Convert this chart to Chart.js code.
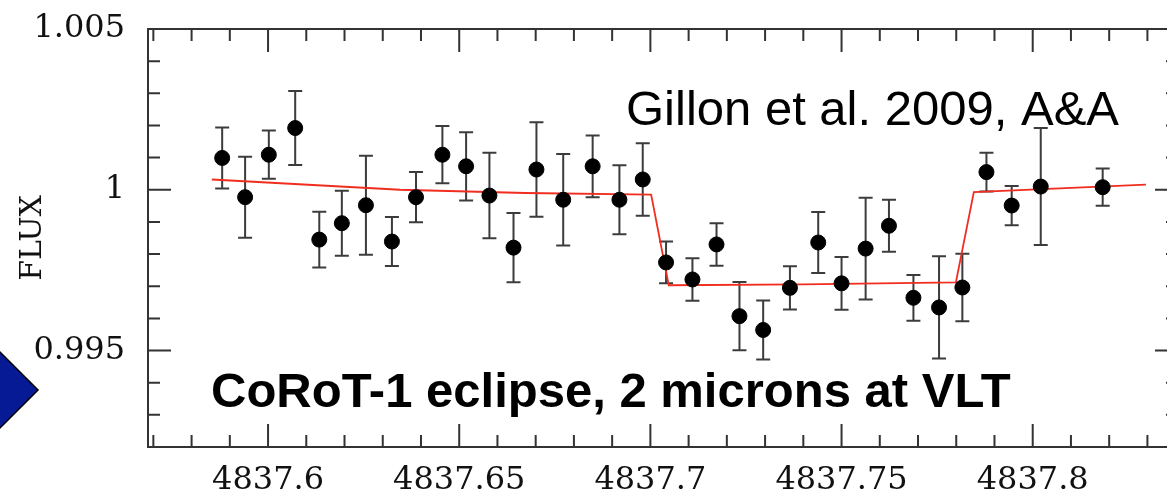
<!DOCTYPE html>
<html>
<head>
<meta charset="utf-8">
<script src="https://cdn.jsdelivr.net/npm/chart.js@4/dist/chart.umd.min.js"></script>
<style>
  html, body { margin: 0; padding: 0; background: #fff; overflow: hidden; }
  #wrap { width: 1190px; height: 492px; }
  canvas { display: block; }
</style>
</head>
<body>
<div id="wrap"><canvas id="eclipseChart" width="1190" height="492"></canvas></div>
<script>
// observed points (HJD - 2450000), relative flux and 1-sigma errors
const obsTime = [4837.5880, 4837.5940, 4837.6002, 4837.6071, 4837.6134, 4837.6193, 4837.6256,
  4837.6324, 4837.6387, 4837.6456, 4837.6518, 4837.6579, 4837.6642, 4837.6702, 4837.6772,
  4837.6849, 4837.6919, 4837.6980, 4837.7041, 4837.7110, 4837.7173, 4837.7233, 4837.7295,
  4837.7365, 4837.7439, 4837.7500, 4837.7563, 4837.7624, 4837.7688, 4837.7755, 4837.7816,
  4837.7879, 4837.7945, 4837.8021, 4837.8183];
const obsFlux = [1.00099, 0.99977, 1.00109, 1.00192, 0.99845, 0.99896, 0.99952, 0.99839,
  0.99977, 1.00109, 1.00073, 0.99982, 0.99820, 1.00063, 0.99969, 1.00073, 0.99969, 1.00032,
  0.99774, 0.99721, 0.99830, 0.99607, 0.99564, 0.99695, 0.99836, 0.99709, 0.99817, 0.99888,
  0.99664, 0.99634, 0.99696, 1.00055, 0.99951, 1.00010, 1.00008];
const obsErr = [0.00095, 0.00126, 0.00075, 0.00115, 0.00087, 0.00101, 0.00154, 0.00076,
  0.00078, 0.00089, 0.00106, 0.00133, 0.00108, 0.00147, 0.00142, 0.00096, 0.00107, 0.00113,
  0.00065, 0.00066, 0.00066, 0.00106, 0.00092, 0.00067, 0.00095, 0.00082, 0.00158, 0.00081,
  0.00071, 0.00159, 0.00105, 0.00060, 0.00061, 0.00182, 0.00058];

// best-fit eclipse model
const modelTime = [4837.5853, 4837.6345, 4837.6673, 4837.7002, 4837.7048, 4837.7398, 4837.7799, 4837.7846, 4837.8296];
const modelFlux = [1.00032, 1.00000, 0.99990, 0.99985, 0.99703, 0.99706, 0.99712, 0.99993, 1.00016];

// labelled ticks
const xTickLabels = [4837.6, 4837.65, 4837.7, 4837.75, 4837.8];
const yTickLabels = [0.995, 1, 1.005];

const isLabelled = (v, list) => list.some((t) => Math.abs(t - v) < 1e-7);
const isMultiple = (v, step) => Math.abs(Math.round(v / step) * step - v) < step * 1e-3;

const tickFont = { family: '"DejaVu Serif"', size: 32 };

// inward ticks, frame, error bars and notes
const framePlugin = {
  id: 'framePlugin',
  beforeDatasetsDraw(chart) {
    const { ctx, scales: { x, y } } = chart;
    ctx.save();
    ctx.strokeStyle = '#3c3c3c';
    ctx.lineWidth = 2;
    obsTime.forEach((t, i) => {
      const px = x.getPixelForValue(t);
      const top = y.getPixelForValue(obsFlux[i] + obsErr[i]);
      const bot = y.getPixelForValue(obsFlux[i] - obsErr[i]);
      ctx.beginPath();
      ctx.moveTo(px, top);
      ctx.lineTo(px, bot);
      ctx.moveTo(px - 7, top);
      ctx.lineTo(px + 7, top);
      ctx.moveTo(px - 7, bot);
      ctx.lineTo(px + 7, bot);
      ctx.stroke();
    });
    ctx.restore();
  },
  afterDraw(chart) {
    const { ctx, chartArea: a, scales: { x, y } } = chart;
    ctx.save();
    ctx.strokeStyle = '#333';
    ctx.lineWidth = 2;
    ctx.strokeRect(a.left, a.top, a.right - a.left, a.bottom - a.top);

    ctx.beginPath();
    x.ticks.forEach((t) => {
      if (!isMultiple(t.value, 0.01)) return;
      const px = x.getPixelForValue(t.value);
      const len = isMultiple(t.value, 0.05) ? 23 : 12;
      ctx.moveTo(px, a.bottom);
      ctx.lineTo(px, a.bottom - len);
      ctx.moveTo(px, a.top);
      ctx.lineTo(px, a.top + len);
    });
    y.ticks.forEach((t) => {
      if (!isMultiple(t.value, 0.001)) return;
      const py = y.getPixelForValue(t.value);
      const len = isMultiple(t.value, 0.005) ? 23 : 12;
      ctx.moveTo(a.left, py);
      ctx.lineTo(a.left + len, py);
      ctx.moveTo(a.right, py);
      ctx.lineTo(a.right - len, py);
    });
    ctx.stroke();

    ctx.fillStyle = '#000';
    ctx.textBaseline = 'alphabetic';
    ctx.font = '49px "Liberation Sans"';
    ctx.fillText('Gillon et al. 2009, A&A', 626, 125);
    ctx.font = 'bold 49px "Liberation Sans"';
    ctx.fillText('CoRoT-1 eclipse, 2 microns at VLT', 211, 407);

    // slide navigation arrow at left edge
    ctx.beginPath();
    ctx.moveTo(-2, 350);
    ctx.lineTo(38, 390);
    ctx.lineTo(-2, 430);
    ctx.lineTo(-42, 390);
    ctx.closePath();
    ctx.fillStyle = '#061a96';
    ctx.fill();
    ctx.lineWidth = 1.5;
    ctx.strokeStyle = '#000';
    ctx.stroke();
    ctx.restore();
  },
};

new Chart(document.getElementById('eclipseChart'), {
  data: {
    datasets: [
      {
        type: 'line',
        label: 'model',
        data: modelTime.map((t, i) => ({ x: t, y: modelFlux[i] })),
        borderColor: 'rgb(240, 45, 30)',
        borderWidth: 1.8,
        pointRadius: 0,
        tension: 0,
        order: 2,
      },
      {
        type: 'scatter',
        label: 'VLT',
        data: obsTime.map((t, i) => ({ x: t, y: obsFlux[i] })),
        backgroundColor: '#000',
        borderColor: '#000',
        pointRadius: 7.5,
        order: 1,
      },
    ],
  },
  options: {
    responsive: false,
    animation: false,
    layout: { padding: { top: 29, right: 12, left: 0, bottom: 0 } },
    plugins: {
      legend: { display: false },
      tooltip: { enabled: false },
    },
    scales: {
      x: {
        type: 'linear',
        min: 4837.5686,
        max: 4837.838,
        grid: { display: false, drawTicks: false },
        border: { display: false },
        afterFit: (scale) => {
          scale.height = 45;
          scale.paddingLeft = 0;
          scale.paddingRight = 0;
        },
        ticks: {
          stepSize: 0.01,
          autoSkip: false,
          maxRotation: 0,
          includeBounds: false,
          padding: 14,
          color: '#111',
          font: tickFont,
          callback: (v) => (isLabelled(v, xTickLabels) ? String(Number(v.toFixed(2))) : ''),
        },
      },
      y: {
        min: 0.992,
        max: 1.005,
        grid: { display: false, drawTicks: false },
        border: { display: false },
        afterFit: (scale) => {
          scale.width = 148;
          scale.paddingTop = 0;
          scale.paddingBottom = 0;
        },
        title: {
          display: true,
          text: 'FLUX',
          color: '#111',
          font: { family: '"DejaVu Serif"', size: 30 },
          padding: { top: 15, bottom: 0 },
        },
        ticks: {
          stepSize: 0.001,
          autoSkip: false,
          includeBounds: false,
          padding: 23,
          color: '#111',
          font: tickFont,
          callback: (v) => (isLabelled(v, yTickLabels) ? String(Number(v.toFixed(3))) : ''),
        },
      },
    },
  },
  plugins: [framePlugin],
});
</script>
</body>
</html>
